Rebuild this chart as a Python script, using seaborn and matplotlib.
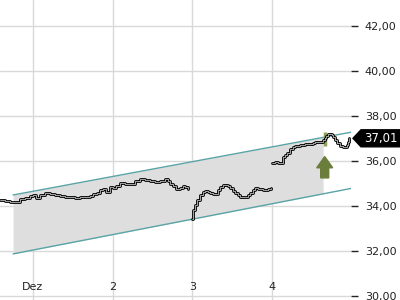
import numpy as np
import pandas as pd
import matplotlib
matplotlib.use("Agg")
import matplotlib.pyplot as plt
import seaborn as sns
from matplotlib.patches import Polygon

# ---- data ----
day12_x = [0.59, 0.65, 0.71, 0.77, 0.84, 0.90, 0.96, 1.00, 1.04, 1.09, 1.15, 1.21, 1.28, 1.34,
           1.40, 1.46, 1.53, 1.59, 1.65, 1.72, 1.75, 1.80, 1.84, 1.88, 1.92, 1.97, 2.00, 2.04,
           2.09, 2.15, 2.22, 2.28, 2.34, 2.41, 2.47, 2.53, 2.59, 2.66, 2.69, 2.72, 2.76, 2.79,
           2.84, 2.88, 2.91, 2.94]
day12_y = [34.27, 34.23, 34.18, 34.18, 34.32, 34.36, 34.45, 34.49, 34.36, 34.49, 34.58, 34.54,
           34.49, 34.45, 34.40, 34.40, 34.36, 34.40, 34.40, 34.45, 34.54, 34.58, 34.72, 34.76,
           34.63, 34.85, 34.80, 34.89, 35.03, 34.98, 34.98, 35.12, 35.20, 35.16, 35.12, 35.07,
           35.12, 35.20, 35.12, 34.98, 34.89, 34.76, 34.80, 34.89, 34.85, 34.76]
day3_x = [3.00, 3.01, 3.03, 3.06, 3.10, 3.13, 3.16, 3.20, 3.22, 3.26, 3.28, 3.32, 3.35, 3.38,
          3.41, 3.45, 3.47, 3.51, 3.54, 3.57, 3.60, 3.64, 3.66, 3.70, 3.72, 3.76, 3.79, 3.82,
          3.85, 3.89, 3.91, 3.95, 3.99]
day3_y = [33.43, 33.83, 34.05, 34.27, 34.49, 34.63, 34.67, 34.63, 34.58, 34.54, 34.54, 34.72,
          34.85, 34.94, 34.94, 34.89, 34.80, 34.67, 34.58, 34.49, 34.40, 34.40, 34.40, 34.49,
          34.58, 34.72, 34.80, 34.76, 34.76, 34.72, 34.72, 34.76, 34.80]
day4_x = [4.00, 4.04, 4.07, 4.10, 4.14, 4.16, 4.19, 4.22, 4.26, 4.29, 4.35, 4.39, 4.41, 4.48,
          4.51, 4.54, 4.60, 4.64, 4.66, 4.68, 4.70, 4.73, 4.75, 4.76, 4.79, 4.81, 4.85, 4.89,
          4.91, 4.94, 4.95, 4.97]
day4_y = [35.92, 35.96, 35.92, 35.92, 36.18, 36.27, 36.36, 36.54, 36.63, 36.67, 36.72, 36.72,
          36.76, 36.76, 36.80, 36.85, 36.85, 36.94, 37.03, 37.12, 37.20, 37.20, 37.16, 37.07,
          36.94, 36.80, 36.67, 36.63, 36.63, 36.72, 36.85, 37.01]

channel_x = [0.75, 4.99]
channel_upper = [34.49, 37.28]
channel_lower = [31.87, 34.78]
fill_end_x = 4.64

signal_x = 4.66
last_price = 37.01
last_label = "37,01"

xtick_pos = [1, 2, 3, 4]
xtick_labels = ["Dez", "2", "3", "4"]
ytick_pos = [30, 32, 34, 36, 38, 40, 42]
ytick_labels = ["30,00", "32,00", "34,00", "36,00", "38,00", "40,00", "42,00"]

# ---- style ----
sns.set_style("white")
plt.rcParams['font.family'] = ['DejaVu Sans']

fig = plt.figure(figsize=(4, 3), dpi=100)
ax = fig.add_axes([0.0, 0.0, 351 / 400, 1.0])
ax.set_xlim(0.586, 4.99)
ax.set_ylim(29.82, 43.16)

grid_c = "#d9d9d9"
for v in xtick_pos:
    ax.axvline(v, color=grid_c, lw=1, zorder=0)
for v in ytick_pos:
    ax.axhline(v, color=grid_c, lw=1, zorder=0)

# channel fill and lines
fx = np.linspace(channel_x[0], fill_end_x, 50)
fu = np.interp(fx, channel_x, channel_upper)
fl = np.interp(fx, channel_x, channel_lower)
ax.fill_between(fx, fl, fu, color="#dedede", lw=0, zorder=1)
teal = "#5aa3a6"
sns.lineplot(x=channel_x, y=channel_upper, ax=ax, color=teal, lw=1, zorder=2)
sns.lineplot(x=channel_x, y=channel_lower, ax=ax, color=teal, lw=1, zorder=2)

# signal marker and arrow
olive = "#6b7d3b"
ax.vlines(signal_x, 36.65, 37.28, color="#8fa05a", lw=2.5, zorder=3)
hw, sw = 0.10, 0.05
arrow = Polygon([(signal_x, 36.20), (signal_x + hw, 35.70), (signal_x + sw, 35.70),
                 (signal_x + sw, 35.25), (signal_x - sw, 35.25), (signal_x - sw, 35.70),
                 (signal_x - hw, 35.70)], closed=True, color=olive, zorder=3)
ax.add_patch(arrow)

# price line (hollow step look)
for xs, ys in [(day12_x, day12_y), (day3_x, day3_y), (day4_x, day4_y)]:
    df = pd.DataFrame({"x": xs, "y": ys})
    sns.lineplot(data=df, x="x", y="y", ax=ax, color="black", lw=2.0,
                 drawstyle="steps-post", zorder=4)
    sns.lineplot(data=df, x="x", y="y", ax=ax, color="white", lw=0.45,
                 drawstyle="steps-post", zorder=5)

# axes
for s in ax.spines.values():
    s.set_visible(False)
ax.set_xlabel("")
ax.set_ylabel("")
ax.set_xticks(xtick_pos)
ax.set_xticklabels(xtick_labels)
ax.tick_params(axis="x", direction="in", length=4, width=1, color="#222222",
               pad=-13, labelsize=8, labelcolor="#222222")
ax.yaxis.tick_right()
ax.set_yticks(ytick_pos)
ax.set_yticklabels(ytick_labels)
ax.tick_params(axis="y", direction="out", length=5, width=1, color="#222222",
               pad=5, labelsize=8, labelcolor="#222222")

# last price tag
ytag = ax.transData.transform((0, last_price))[1]
fy = ytag / fig.bbox.height
h = 8.5 / 300
tag = Polygon([(353 / 400, fy), (361 / 400, fy + h), (1.0, fy + h), (1.0, fy - h),
               (361 / 400, fy - h)], closed=True, transform=fig.transFigure,
              color="black", clip_on=False)
fig.add_artist(tag)
fig.text(381 / 400, fy, last_label, color="white", fontsize=8.5, ha="center", va="center")

fig.savefig("out.png", dpi=100)
